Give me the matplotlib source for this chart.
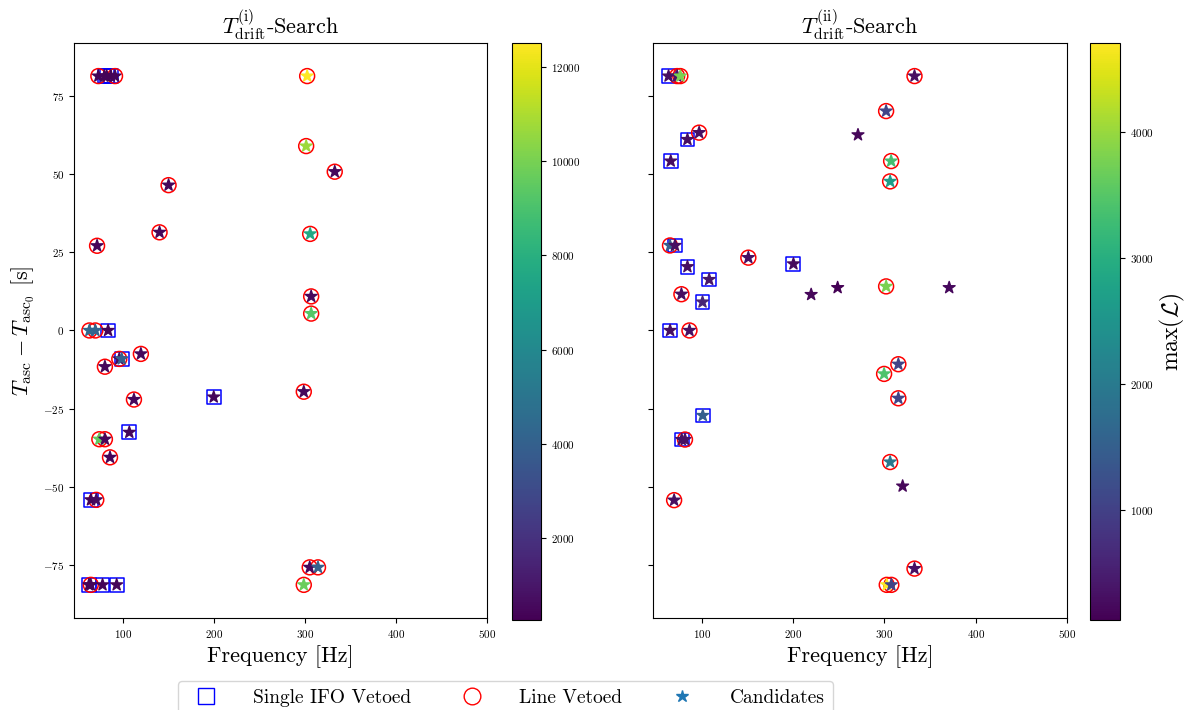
import numpy as np
import matplotlib
matplotlib.use("Agg")
import matplotlib.pyplot as plt
from matplotlib.lines import Line2D

plt.rcParams['font.family'] = 'serif'
plt.rcParams['font.serif'] = ['cmr10', 'DejaVu Serif']
plt.rcParams['mathtext.fontset'] = 'cm'
plt.rcParams['axes.formatter.use_mathtext'] = True
plt.rcParams['axes.unicode_minus'] = True

# veto codes: 0 = none, 1 = single IFO vetoed, 2 = line vetoed
# T_drift^(i) search
freq_i = [73.3, 80, 82.5, 87, 91.6, 302.6, 301.5, 332.9, 150.4, 140.5, 305.9, 71.9, 307, 307,
          63.5, 70, 84, 120, 96.3, 99, 80.5, 112.4, 200, 298.9, 107.3, 74.4, 80.5, 86.1,
          65.2, 71, 305.4, 314.5, 298.9, 63, 65, 77.9, 93.4]
tasc_i = [81.4, 81.4, 81.4, 81.4, 81.4, 81.4, 59.0, 50.8, 46.5, 31.4, 30.9, 27.1, 10.9, 5.4,
          0, 0, 0, -7.5, -9.1, -9.1, -11.6, -22.1, -21.3, -19.6, -32.6, -34.8, -34.8, -40.6,
          -54.2, -54.2, -75.8, -75.8, -81.4, -81.4, -81.4, -81.4, -81.4]
maxl_i = [450, 380, 420, 400, 450, 12510, 10700, 520, 480, 470, 7600, 430, 520, 9300,
          4400, 4200, 380, 500, 600, 4000, 460, 500, 420, 520, 480, 9500, 470, 430,
          400, 600, 520, 4000, 9700, 260, 420, 400, 380]
veto_i = [2, 1, 1, 1, 2, 2, 2, 2, 2, 2, 2, 2, 2, 2,
          2, 2, 1, 2, 2, 1, 2, 2, 1, 2, 1, 2, 2, 2,
          1, 2, 2, 2, 2, 1, 2, 1, 1]

# T_drift^(ii) search
freq_ii = [63.6, 73, 76.5, 333, 301.9, 271.1, 97.1, 84.3, 66, 307.4, 306.3, 65.2, 70.7, 151,
           200.4, 84.3, 108.1, 301.9, 248.8, 219.8, 371, 77.7, 100.8, 65.3, 86.5, 315.3,
           299.7, 315.3, 101.1, 78, 81.6, 306.3, 320, 69.7, 333, 302.6, 307.6]
tasc_ii = [81.4, 81.4, 81.4, 81.4, 70.2, 62.6, 63.3, 61.1, 54.2, 54.2, 47.7, 27.2, 27.2, 23.3,
           21.3, 20.4, 16.3, 14.1, 13.7, 11.5, 13.7, 11.6, 9.1, 0, 0, -10.8,
           -13.9, -21.7, -27.2, -34.9, -34.9, -42.1, -49.8, -54.3, -76.2, -81.4, -81.4]
maxl_ii = [300, 350, 3800, 300, 1040, 200, 300, 300, 280, 3330, 2650, 1500, 300, 320,
           250, 300, 400, 3790, 127, 200, 220, 300, 600, 300, 320, 1040,
           3420, 1040, 1500, 300, 320, 1960, 200, 300, 330, 4706, 1040]
veto_ii = [1, 2, 2, 2, 2, 0, 2, 1, 1, 2, 2, 2, 1, 2,
           1, 1, 1, 2, 0, 0, 0, 2, 1, 1, 2, 2,
           2, 2, 1, 1, 2, 2, 0, 2, 2, 2, 2]

panels = [(freq_i, tasc_i, maxl_i, veto_i, r'$T_{\rm drift}^{\rm (i)}$-Search'),
          (freq_ii, tasc_ii, maxl_ii, veto_ii, r'$T_{\rm drift}^{\rm (ii)}$-Search')]

fig = plt.figure(figsize=(11.85, 7.1), dpi=100)
ax_pos = [[0.0624, 0.1296, 0.3485, 0.8099], [0.551, 0.1296, 0.3494, 0.8099]]
cb_pos = [[0.432, 0.1268, 0.0245, 0.8127], [0.9198, 0.1268, 0.0253, 0.8127]]

for k, (f, t, L, v, title) in enumerate(panels):
    f = np.array(f); t = np.array(t); L = np.array(L); v = np.array(v)
    ax = fig.add_axes(ax_pos[k])
    ifo = v == 1
    line = v == 2
    ax.scatter(f[ifo], t[ifo], marker='s', s=100, facecolors='none', edgecolors='blue', linewidths=1.1)
    ax.scatter(f[line], t[line], marker='o', s=115, facecolors='none', edgecolors='red', linewidths=1.1)
    sc = ax.scatter(f, t, c=L, cmap='viridis', marker='*', s=80, zorder=3)
    ax.set_xlim(46.5, 500)
    ax.set_ylim(-92, 92)
    ax.set_xticks([100, 200, 300, 400, 500])
    ax.set_yticks([-75, -50, -25, 0, 25, 50, 75])
    ax.tick_params(labelsize=8)
    ax.set_title(title, fontsize=16)
    ax.set_xlabel('Frequency [Hz]', fontsize=16)
    if k == 0:
        ax.set_ylabel(r'$T_{\rm asc} - T_{\rm asc_0}$ [s]', fontsize=16)
    else:
        ax.set_yticklabels([])
    cax = fig.add_axes(cb_pos[k])
    cb = fig.colorbar(sc, cax=cax)
    cb.ax.tick_params(labelsize=8)
    if k == 1:
        cb.set_label(r'$\max(\mathcal{L})$', fontsize=17, labelpad=3)

handles = [Line2D([], [], marker='s', ls='none', markerfacecolor='none', markeredgecolor='blue', markersize=11),
           Line2D([], [], marker='o', ls='none', markerfacecolor='none', markeredgecolor='red', markersize=12),
           Line2D([], [], marker='*', ls='none', color='#1f77b4', markersize=9)]
fig.legend(handles, ['Single IFO Vetoed', 'Line Vetoed', 'Candidates'], loc='upper center',
           bbox_to_anchor=(0.4266, 0.054), ncol=3, fontsize=14, handletextpad=1.45,
           columnspacing=2.1, frameon=True)

fig.savefig('out.png', dpi=100)
